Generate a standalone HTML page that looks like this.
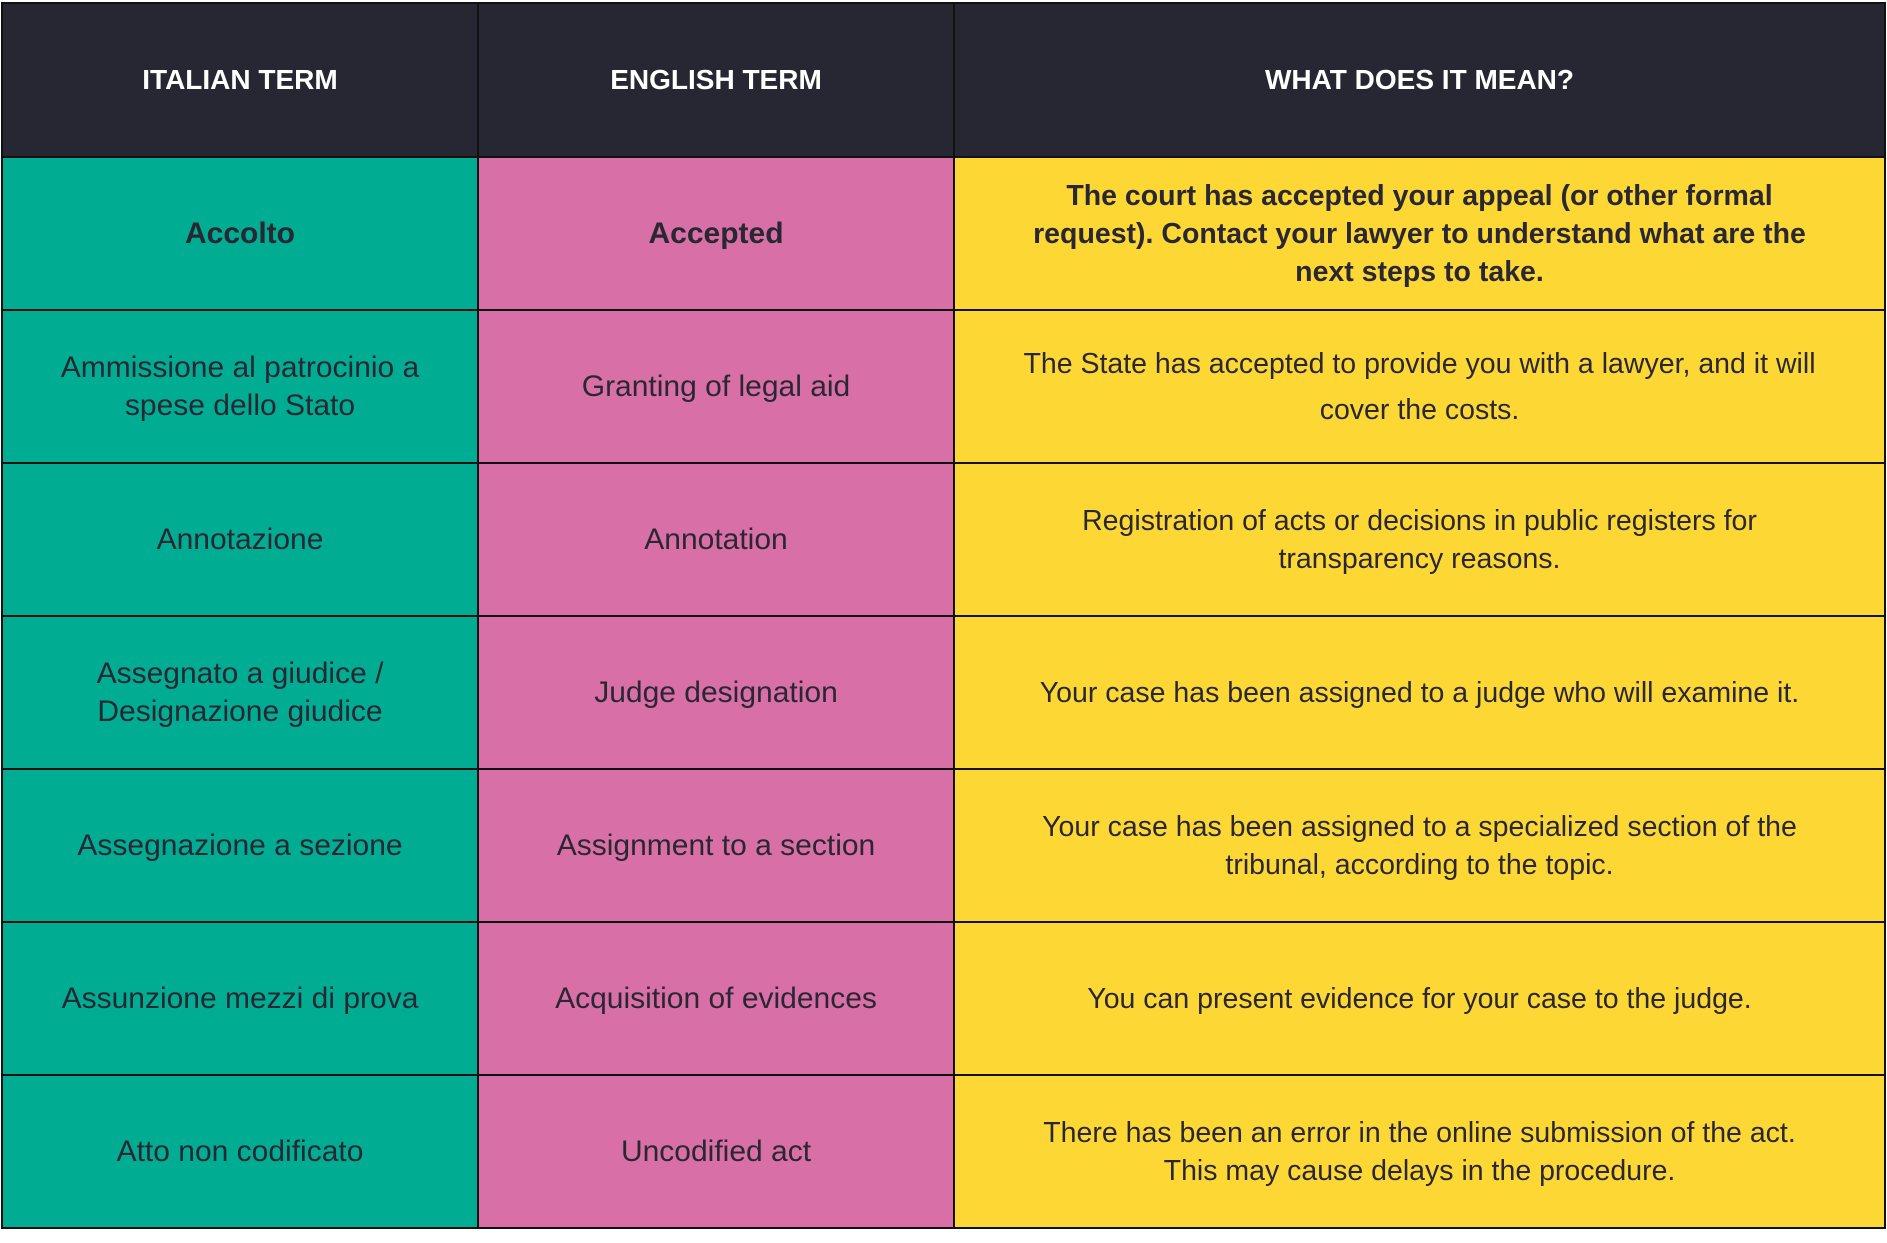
<!DOCTYPE html>
<html><head><meta charset="utf-8">
<style>
html,body{margin:0;padding:0;background:#fff;width:1887px;height:1243px;overflow:hidden}
table{position:absolute;left:1px;top:2px;border-collapse:collapse;table-layout:fixed;font-family:"Liberation Sans",Arial,sans-serif;color:#2a2734}
td,th{border:2px solid #111;text-align:center;vertical-align:middle;padding:0 4px;white-space:nowrap;overflow:hidden}
th{background:#272633;color:#fff;font-size:28px;font-weight:bold;height:152px}
td{height:151px;font-size:30px;line-height:38px}
td.c1{background:#00ad92}
td.c2{background:#d86fa6}
td.c3{background:#fdd835;font-size:28.5px}
.b{font-weight:bold}
</style></head><body>
<table>
<colgroup><col style="width:476px"><col style="width:476px"><col style="width:931px"></colgroup>
<tr>
<th>ITALIAN TERM</th>
<th>ENGLISH TERM</th>
<th>WHAT DOES IT MEAN?</th></tr>
<tr>
<td class="c1 b">Accolto</td>
<td class="c2 b">Accepted</td>
<td class="c3 b">The court has accepted your appeal (or other formal<br>request). Contact your lawyer to understand what are the<br>next steps to take.</td></tr>
<tr>
<td class="c1">Ammissione al patrocinio a<br>spese dello Stato</td>
<td class="c2">Granting of legal aid</td>
<td class="c3" style="line-height:46px">The State has accepted to provide you with a lawyer, and it will<br>cover the costs.</td></tr>
<tr>
<td class="c1">Annotazione</td>
<td class="c2">Annotation</td>
<td class="c3">Registration of acts or decisions in public registers for<br>transparency reasons.</td></tr>
<tr>
<td class="c1">Assegnato a giudice /<br>Designazione giudice</td>
<td class="c2">Judge designation</td>
<td class="c3">Your case has been assigned to a judge who will examine it.</td></tr>
<tr>
<td class="c1">Assegnazione a sezione</td>
<td class="c2">Assignment to a section</td>
<td class="c3">Your case has been assigned to a specialized section of the<br>tribunal, according to the topic.</td></tr>
<tr>
<td class="c1">Assunzione mezzi di prova</td>
<td class="c2">Acquisition of evidences</td>
<td class="c3">You can present evidence for your case to the judge.</td></tr>
<tr>
<td class="c1">Atto non codificato</td>
<td class="c2">Uncodified act</td>
<td class="c3">There has been an error in the online submission of the act.<br>This may cause delays in the procedure.</td></tr>
</table>
</body></html>
